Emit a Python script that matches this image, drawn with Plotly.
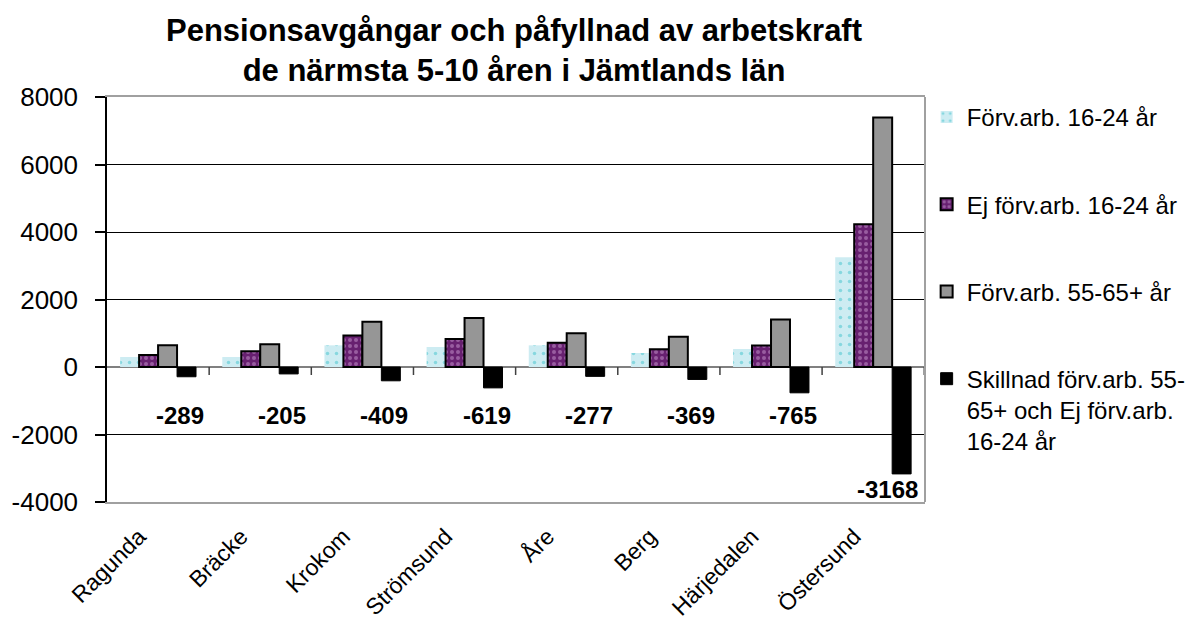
import plotly.graph_objects as go

categories = ["Ragunda", "Bräcke", "Krokom", "Strömsund", "Åre", "Berg", "Härjedalen", "Östersund"]
forv_16_24 = [296, 296, 642, 593, 642, 415, 533, 3250]
ej_forv_16_24 = [354, 470, 935, 830, 720, 525, 640, 4228]
forv_55_65 = [643, 675, 1344, 1449, 997, 894, 1405, 7396]
skillnad = [-289, -205, -409, -619, -277, -369, -765, -3168]

y_tick_values = [-4000, -2000, 0, 2000, 4000, 6000, 8000]
y_tick_labels = ["-4000", "-2000", "0", "2000", "4000", "6000", "8000"]

series_names = [
    "Förv.arb. 16-24 år",
    "Ej förv.arb. 16-24 år",
    "Förv.arb. 55-65+ år",
    "Skillnad förv.arb. 55-<br>65+ och Ej förv.arb.<br>16-24 år",
]
title_text = "<b>Pensionsavgångar och påfyllnad av arbetskraft<br>de närmsta 5-10 åren i Jämtlands län</b>"

FONT = "Liberation Sans, Arial, sans-serif"
L, R, T, B = 107, 273, 97, 124
W, H = 1198, 626
PW, PH = W - L - R, H - T - B

fig = go.Figure()
fig.add_trace(go.Bar(
    x=categories, y=forv_16_24, name=series_names[0], legendgroup="a",
    marker=dict(color="#cdecf2", line=dict(width=0),
                pattern=dict(shape=".", fgcolor="#3fc2cc", bgcolor="#cdecf2", size=9, solidity=0.12)),
))
fig.add_trace(go.Bar(
    x=categories, y=ej_forv_16_24, name=series_names[1], legendgroup="b",
    marker=dict(color="#672070", line=dict(width=2, color="#000000"),
                pattern=dict(shape=".", fgcolor="#c99ad0", bgcolor="#672070", size=6, solidity=0.35)),
))
fig.add_trace(go.Bar(
    x=categories, y=forv_55_65, name=series_names[2], legendgroup="c",
    marker=dict(color="#969696", line=dict(width=2, color="#000000")),
))
fig.add_trace(go.Bar(
    x=categories, y=skillnad, name=series_names[3], legendgroup="d",
    marker=dict(color="#000000", line=dict(width=1, color="#000000")),
))

# data labels for the difference series
LABEL_LEVEL = -1450
for cat, v in zip(categories, skillnad):
    if v > LABEL_LEVEL:
        fig.add_annotation(x=cat, y=LABEL_LEVEL, text=f"<b>{v}</b>", showarrow=False,
                           xshift=22, yanchor="middle",
                           font=dict(family=FONT, size=24, color="#000000"))
    else:
        fig.add_annotation(x=cat, y=v, text=f"<b>{v}</b>", showarrow=False,
                           xshift=14, yanchor="top", yshift=0,
                           font=dict(family=FONT, size=24, color="#000000"))

# title as annotation (multi-line)
fig.add_annotation(xref="paper", yref="paper", x=(513.5 - L) / PW, xanchor="center",
                   y=1 + (T - 50) / PH, yanchor="middle", showarrow=False,
                   text=title_text, font=dict(family=FONT, size=31, color="#000000"))

shapes = []
# category separator ticks on the zero line
for i in range(1, len(categories) + 1):
    shapes.append(dict(type="line", xref="x", yref="y", x0=i - 0.5, x1=i - 0.5,
                       ysizemode="pixel", yanchor=0, y0=0, y1=-8,
                       line=dict(color="#404040", width=1.5)))
# right border of plot area
shapes.append(dict(type="line", xref="paper", yref="paper", x0=1, x1=1, y0=0, y1=1,
                   line=dict(color="#a0a0a0", width=2)))

fig.update_layout(
    width=W, height=H,
    margin=dict(l=L, r=R, t=T, b=B, autoexpand=False),
    paper_bgcolor="white", plot_bgcolor="white",
    font=dict(family=FONT, color="#000000"),
    barmode="group", bargap=0.257, bargroupgap=0,
    showlegend=True,
    legend=dict(x=1.002, xanchor="left", y=1.005, yanchor="top",
                traceorder="grouped", tracegroupgap=53, valign="top",
                maxheight=600,
                font=dict(family=FONT, size=24, color="#000000"),
                bgcolor="rgba(0,0,0,0)"),
    shapes=shapes,
)
fig.update_xaxes(
    type="category", showgrid=False, ticks="", tickangle=-45, automargin=False,
    tickfont=dict(family=FONT, size=23, color="#000000"),
    showline=True, mirror=True, linecolor="#a0a0a0", linewidth=2,
    ticklabelstandoff=10, ticklabelshift=-19,
)
fig.update_yaxes(
    range=[-4000, 8000], tickvals=y_tick_values, ticktext=y_tick_labels, automargin=False,
    showgrid=True, gridcolor="#000000", gridwidth=1,
    zeroline=True, zerolinecolor="#808080", zerolinewidth=2,
    showline=True, linecolor="#000000", linewidth=1.5,
    ticks="outside", ticklen=10, tickcolor="#000000", tickwidth=1.5,
    tickfont=dict(family=FONT, size=26, color="#000000"),
    ticklabelstandoff=12,
)

fig.write_html("out.html", config={"displayModeBar": False},
               post_script="document.body.style.margin='0px';")
